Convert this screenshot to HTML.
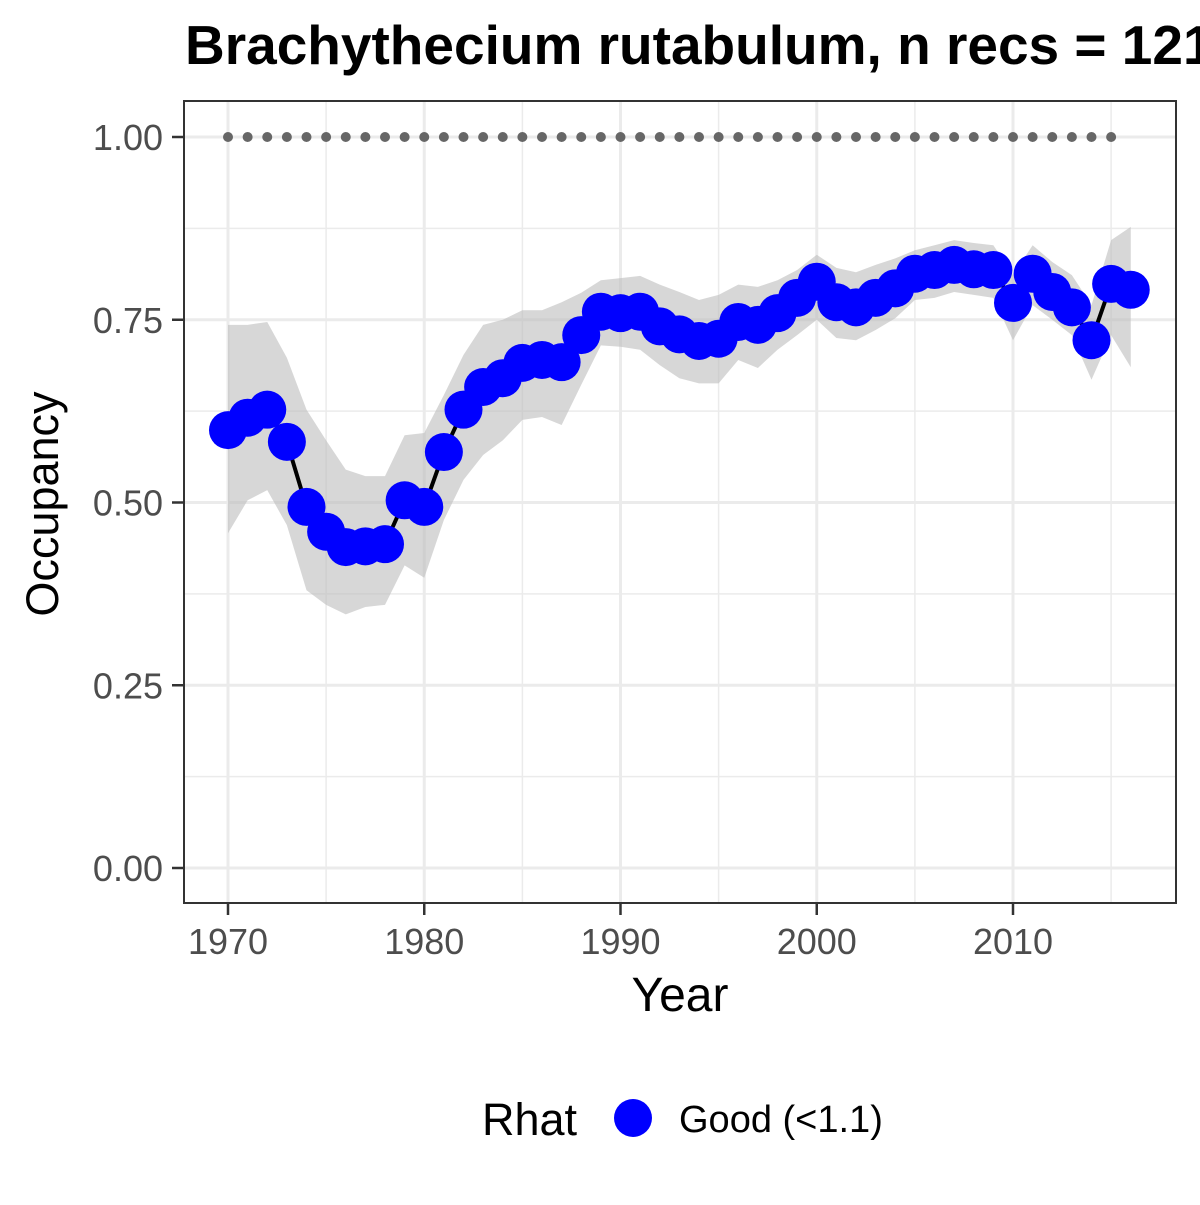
<!DOCTYPE html>
<html><head><meta charset="utf-8"><style>
body{margin:0;background:#fff;overflow:hidden}
svg text{font-family:"Liberation Sans",Arial,sans-serif}
</style></head><body>
<svg id="chart" width="1200" height="1200" viewBox="0 0 1200 1200">
<rect width="1200" height="1200" fill="#fff"/>
<text x="185" y="64" font-size="55" font-weight="bold" fill="#000">Brachythecium rutabulum, n recs = 121</text>
<g id="grid"></g>
<g id="ribbon"></g>
<g id="marks"></g>
<rect x="184" y="101" width="992" height="802" fill="none" stroke="#333" stroke-width="2"/>
<g id="axes"></g>
<text x="680" y="1011" font-size="48" text-anchor="middle" fill="#000">Year</text>
<text transform="translate(58,504) rotate(-90)" font-size="45" text-anchor="middle" fill="#000">Occupancy</text>
<g>
<text x="482" y="1135" font-size="45" fill="#000">Rhat</text>
<circle cx="633" cy="1118" r="19" fill="#0000ff"/>
<text x="679" y="1132" font-size="38" fill="#000">Good (&lt;1.1)</text>
</g>
</svg>
<script>
const years=[];for(let y=1970;y<=2016;y++)years.push(y);
const refYears=[];for(let y=1970;y<=2015;y++)refYears.push(y);
const mean=[0.599,0.616,0.627,0.583,0.494,0.46,0.439,0.44,0.443,0.503,0.494,0.569,0.627,0.658,0.67,0.691,0.695,0.692,0.729,0.761,0.759,0.761,0.741,0.73,0.721,0.724,0.747,0.743,0.759,0.78,0.802,0.774,0.767,0.78,0.793,0.813,0.818,0.825,0.819,0.818,0.773,0.813,0.788,0.767,0.722,0.799,0.791];
const upper=[0.743,0.743,0.747,0.698,0.627,0.585,0.545,0.536,0.536,0.592,0.595,0.647,0.702,0.743,0.75,0.763,0.763,0.774,0.787,0.804,0.807,0.81,0.798,0.788,0.777,0.784,0.798,0.795,0.804,0.818,0.839,0.821,0.815,0.825,0.834,0.845,0.852,0.859,0.855,0.852,0.811,0.852,0.829,0.811,0.77,0.859,0.877];
const lower=[0.458,0.503,0.517,0.469,0.38,0.36,0.347,0.357,0.36,0.414,0.397,0.476,0.531,0.565,0.585,0.613,0.617,0.606,0.661,0.715,0.713,0.709,0.688,0.67,0.663,0.663,0.695,0.684,0.709,0.729,0.75,0.725,0.722,0.736,0.752,0.777,0.78,0.788,0.784,0.78,0.722,0.77,0.75,0.729,0.668,0.729,0.685];
const xTicks=[1970,1980,1990,2000,2010];
const yTicks=[0,0.25,0.5,0.75,1];
const yTickLabels=["0.00","0.25","0.50","0.75","1.00"];
const ref=1.0;
const X=v=>228+(v-1970)*19.625;
const Y=v=>868-v*731;
const NS="http://www.w3.org/2000/svg";
function mk(t,a,p){const e=document.createElementNS(NS,t);for(const k in a)e.setAttribute(k,a[k]);p.appendChild(e);return e;}
const grid=document.getElementById('grid'),rib=document.getElementById('ribbon'),marks=document.getElementById('marks'),axes=document.getElementById('axes');
mk('rect',{x:184,y:101,width:992,height:802,fill:'#fff'},grid);
for(let i=0;i<yTicks.length-1;i++){const v=(yTicks[i]+yTicks[i+1])/2;const l=mk('line',{x1:184,x2:1176,y1:Y(v),y2:Y(v),stroke:'#ebebeb','stroke-width':1.5},grid);

}
for(let i=0;i<xTicks.length;i++){const v=xTicks[i]+5;const l=mk('line',{x1:X(v),x2:X(v),y1:101,y2:903,stroke:'#ebebeb','stroke-width':1.5},grid);

}
yTicks.forEach((v,i)=>{const l=mk('line',{x1:184,x2:1176,y1:Y(v),y2:Y(v),stroke:'#ebebeb','stroke-width':3},grid);


const t=mk('line',{x1:172,x2:184,y1:Y(v),y2:Y(v),stroke:'#333','stroke-width':2.5},axes);


const tx=mk('text',{x:163,y:Y(v)+13,'font-size':36,'text-anchor':'end',fill:'#4d4d4d'},axes);tx.textContent=yTickLabels[i];

});
xTicks.forEach(v=>{const l=mk('line',{x1:X(v),x2:X(v),y1:101,y2:903,stroke:'#ebebeb','stroke-width':3},grid);


const t=mk('line',{x1:X(v),x2:X(v),y1:903,y2:915,stroke:'#333','stroke-width':2.5},axes);


const tx=mk('text',{x:X(v),y:954,'font-size':36,'text-anchor':'middle',fill:'#4d4d4d'},axes);tx.textContent=v;

});
let d='';years.forEach((y,i)=>{d+=(i?'L':'M')+X(y)+','+Y(upper[i]);});
for(let i=years.length-1;i>=0;i--)d+='L'+X(years[i])+','+Y(lower[i]);
const r=mk('path',{d:d+'Z',fill:'#bdbdbd','fill-opacity':0.6},rib);


refYears.forEach(y=>{const c=mk('circle',{cx:X(y),cy:Y(ref),r:5,fill:'#666'},marks);

});
const ln=mk('polyline',{points:years.map((y,i)=>X(y)+','+Y(mean[i])).join(' '),fill:'none',stroke:'#000','stroke-width':4},marks);


years.forEach((y,i)=>{const c=mk('circle',{cx:X(y),cy:Y(mean[i]),r:19,fill:'#0000ff'},marks);

});
</script>
</body></html>
